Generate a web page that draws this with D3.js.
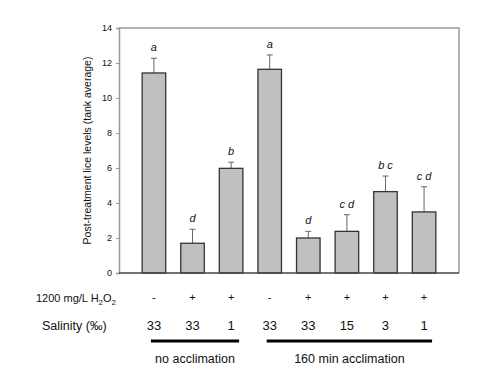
<!DOCTYPE html>
<html>
<head>
<meta charset="utf-8">
<script src="https://cdn.jsdelivr.net/npm/d3@7"></script>
<style>
body { margin: 0; background: white; }
svg text { font-family: Arial, "Liberation Sans", sans-serif; }
</style>
</head>
<body>
<div id="chart"></div>
<script>
var width = 500;
var height = 375;

// groups of tanks, left to right
var bars = ["b1", "b2", "b3", "b4", "b5", "b6", "b7", "b8"];
var means = [11.43, 1.7, 5.98, 11.64, 2.0, 2.38, 4.65, 3.49];
var errors = [0.84, 0.8, 0.35, 0.82, 0.38, 0.95, 0.89, 1.44];
var letters = ["a", "d", "b", "a", "d", "c d", "b c", "c d"];
var peroxide = ["-", "+", "+", "-", "+", "+", "+", "+"];
var salinity = ["33", "33", "1", "33", "33", "15", "3", "1"];
var groups = [
    { label: "no acclimation", first: 0, last: 2 },
    { label: "160 min acclimation", first: 3, last: 7 }
];
var yTicks = [0, 2, 4, 6, 8, 10, 12, 14];

var plotLeft = 119, plotRight = 459, plotTop = 28, plotBottom = 273;

var svg = d3.select("#chart")
            .append("svg")
            .attr("width", width)
            .attr("height", height);

var x = d3.scaleBand()
            .domain(bars)
            .range([plotLeft, plotRight])
            .paddingInner(0.39)
            .paddingOuter(0.6);

var y = d3.scaleLinear()
            .domain([0, 14])
            .range([plotBottom, plotTop]);

// frame: top and right
svg.append("path")
    .attr("d", "M" + plotLeft + "," + plotTop + "H" + plotRight + "V" + plotBottom)
    .attr("fill", "none")
    .attr("stroke", "#999")
    .attr("stroke-width", 1.5);

// y axis
var yAxis = d3.axisLeft(y)
                .tickValues(yTicks)
                .tickSize(3)
                .tickPadding(4)
                .tickFormat(d3.format("d"));
var yg = svg.append("g")
    .attr("transform", "translate(" + plotLeft + ",0)")
    .call(yAxis);
yg.select(".domain").attr("stroke", "#999").attr("stroke-width", 1.5);
yg.selectAll(".tick line").attr("stroke", "#999");
yg.selectAll(".tick text")
    .attr("fill", "#111")
    .style("font-size", "9px");

svg.append("text")
    .attr("transform", "translate(91," + ((plotTop + plotBottom) / 2) + ") rotate(-90)")
    .style("text-anchor", "middle")
    .style("font-size", "10.5px")
    .attr("fill", "#111")
    .text("Post-treatment lice levels (tank average)");

// error bars
var eb = svg.append("g");
bars.forEach(function(b, i) {
    var cx = x(b) + x.bandwidth() / 2;
    eb.append("line")
        .attr("x1", cx).attr("x2", cx)
        .attr("y1", y(means[i]))
        .attr("y2", y(means[i] + errors[i]))
        .attr("stroke", "#666")
        .attr("stroke-width", 1);
    eb.append("line")
        .attr("x1", cx - 3).attr("x2", cx + 3)
        .attr("y1", y(means[i] + errors[i]))
        .attr("y2", y(means[i] + errors[i]))
        .attr("stroke", "#666")
        .attr("stroke-width", 1);
    svg.append("text")
        .attr("x", cx)
        .attr("y", y(means[i] + errors[i]) - 7)
        .style("text-anchor", "middle")
        .style("font-size", "11px")
        .style("font-style", "italic")
        .attr("fill", "#111")
        .text(letters[i]);
});

// bars
svg.append("g")
    .selectAll("rect")
    .data(means)
    .enter()
    .append("rect")
    .attr("x", function(d, i) { return x(bars[i]); })
    .attr("y", function(d) { return y(d); })
    .attr("width", x.bandwidth())
    .attr("height", function(d) { return y(0) - y(d); })
    .attr("fill", "#c0c0c0")
    .attr("stroke", "#333")
    .attr("stroke-width", 1.3);

// baseline
svg.append("line")
    .attr("x1", plotLeft).attr("x2", plotRight)
    .attr("y1", plotBottom).attr("y2", plotBottom)
    .attr("stroke", "#444")
    .attr("stroke-width", 1.3);

// treatment rows
svg.append("text")
    .attr("x", 36)
    .attr("y", 302)
    .style("font-size", "11px")
    .attr("fill", "#111")
    .html("1200 mg/L H<tspan dy='3' font-size='8px'>2</tspan><tspan dy='-3'>O</tspan><tspan dy='3' font-size='8px'>2</tspan>");

svg.append("text")
    .attr("x", 42)
    .attr("y", 330)
    .style("font-size", "12.5px")
    .attr("fill", "#111")
    .text("Salinity (\u2030)");

bars.forEach(function(b, i) {
    var cx = x(b) + x.bandwidth() / 2;
    svg.append("text")
        .attr("x", cx)
        .attr("y", 301)
        .style("text-anchor", "middle")
        .style("font-size", "11px")
        .attr("fill", "#111")
        .text(peroxide[i]);
    svg.append("text")
        .attr("x", cx)
        .attr("y", 330)
        .style("text-anchor", "middle")
        .style("font-size", "13px")
        .attr("fill", "#111")
        .text(salinity[i]);
});

groups.forEach(function(g) {
    var x1 = x(bars[g.first]) + x.bandwidth() / 2 - 3;
    var x2 = x(bars[g.last]) + x.bandwidth() / 2 + 8;
    svg.append("line")
        .attr("x1", x1).attr("x2", x2)
        .attr("y1", 341).attr("y2", 341)
        .attr("stroke", "#000")
        .attr("stroke-width", 3);
    svg.append("text")
        .attr("x", (x1 + x2) / 2)
        .attr("y", 363)
        .style("text-anchor", "middle")
        .style("font-size", "12.5px")
        .attr("fill", "#111")
        .text(g.label);
});
</script>
</body>
</html>
